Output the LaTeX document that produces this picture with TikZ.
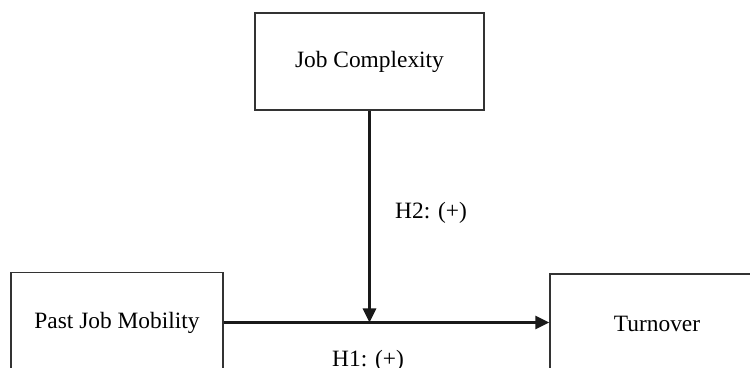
\documentclass[tikz,border=0pt]{standalone}
\usepackage{fontspec}
\setmainfont{Liberation Serif}
\usetikzlibrary{arrows.meta}
\begin{document}
\begin{tikzpicture}[x=1pt,y=1pt,
  box/.style={draw=black!80, line width=1.4pt, minimum height=97pt, inner sep=0pt,
    font=\fontsize{23.4}{28}\selectfont},
  conn/.style={line width=2.8pt, draw=black!90, -{Triangle[length=14pt,width=13pt]}},
  lbl/.style={font=\fontsize{23.4}{28}\selectfont, inner sep=0pt}]
\useasboundingbox (0,0) rectangle (750,367);
\clip (0,0) rectangle (750,367);
\node[box, minimum width=212pt, minimum height=100pt] (pjm) at (117,44.5) {Past Job Mobility};
\node[box, minimum width=230pt, minimum height=100pt] (to) at (665,43) {\hspace*{-16pt}Turnover};
\node[box, minimum width=229pt] (jc) at (369.5,305.5) {Job Complexity};
\coordinate (m) at (jc.south |- pjm.east);
\draw[conn] (pjm.east) -- (to.west |- pjm.east);
\draw[conn] (jc.south) -- (m);
\node[lbl, anchor=base west] (h2) at (395,148.5) {H2: (+)};
\node[lbl, anchor=base west] (h1) at (332,1) {H1: (+)};
\end{tikzpicture}
\end{document}
